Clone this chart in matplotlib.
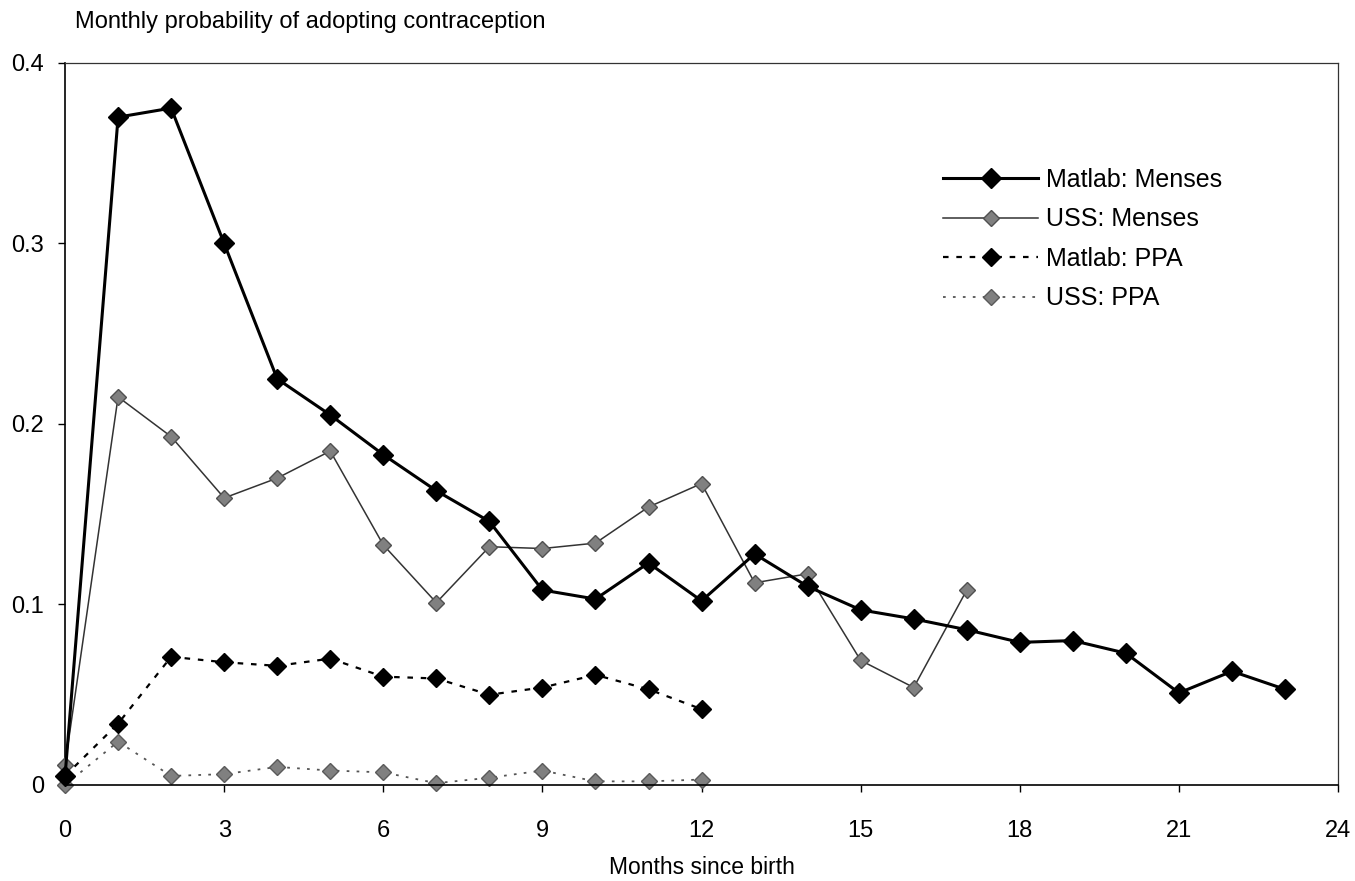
import numpy as np
import matplotlib.pyplot as plt

plt.rcParams['font.family'] = ['Liberation Sans', 'DejaVu Sans']

months = np.arange(0, 24)

matlab_menses = [0.005, 0.370, 0.375, 0.300, 0.225, 0.205, 0.183, 0.163, 0.146, 0.108,
                 0.103, 0.123, 0.102, 0.128, 0.110, 0.097, 0.092, 0.086, 0.079, 0.080,
                 0.073, 0.051, 0.063, 0.053]
uss_menses = [0.011, 0.215, 0.193, 0.159, 0.170, 0.185, 0.133, 0.101, 0.132, 0.131,
              0.134, 0.154, 0.167, 0.112, 0.117, 0.069, 0.054, 0.108]
matlab_ppa = [0.005, 0.034, 0.071, 0.068, 0.066, 0.070, 0.060, 0.059, 0.050, 0.054,
              0.061, 0.053, 0.042]
uss_ppa = [0.000, 0.024, 0.005, 0.006, 0.010, 0.008, 0.007, 0.001, 0.004, 0.008,
           0.002, 0.002, 0.003]

x_ticks = np.arange(0, 25, 3)
y_ticks = [0, 0.1, 0.2, 0.3, 0.4]

fig = plt.figure(figsize=(13.55, 8.81), dpi=100)
ax = fig.add_axes([0.048, 0.109, 0.9395, 0.8195])

grey = '#808080'
ax.plot(months[:len(uss_ppa)], uss_ppa, color='#555555', lw=1.3, ls=(0, (1.5, 4)),
        marker='D', ms=8, mfc=grey, mec='#5a5a5a', label='USS: PPA', zorder=2)
ax.plot(months[:len(matlab_ppa)], matlab_ppa, color='black', lw=1.6, ls=(0, (2.5, 3.5)),
        marker='D', ms=9, mfc='black', mec='black', label='Matlab: PPA', zorder=3)
ax.plot(months[:len(uss_menses)], uss_menses, color='#333333', lw=1.1, ls='-',
        marker='D', ms=8, mfc=grey, mec='#505050', label='USS: Menses', zorder=4)
ax.plot(months[:len(matlab_menses)], matlab_menses, color='black', lw=2.2, ls='-',
        marker='D', ms=10, mfc='black', mec='black', label='Matlab: Menses', zorder=5)

ax.set_xlim(0, 24)
ax.set_ylim(0, 0.4)
ax.set_xticks(x_ticks)
ax.set_xticklabels([str(v) for v in x_ticks])
ax.set_yticks(y_ticks)
ax.set_yticklabels(['0', '0.1', '0.2', '0.3', '0.4'])
ax.tick_params(axis='both', labelsize=17, direction='out', length=5, width=1, color='black')
ax.tick_params(axis='x', pad=20)
ax.tick_params(axis='y', pad=10)
for side in ['top', 'right']:
    ax.spines[side].set_linewidth(0.9)
    ax.spines[side].set_color('#333333')
for side in ['left', 'bottom']:
    ax.spines[side].set_linewidth(1.2)
for line in ax.lines:
    line.set_clip_on(False)

ax.set_xlabel('Months since birth', fontsize=16.5, labelpad=10)
fig.text(0.055, 0.975, 'Monthly probability of adopting contraception', fontsize=17,
         ha='left', va='center')

handles, labels = ax.get_legend_handles_labels()
order = [3, 2, 1, 0]
ax.legend([handles[i] for i in order], [labels[i] for i in order], loc='upper left',
          bbox_to_anchor=(0.672, 0.886), frameon=False, fontsize=18, handlelength=3.8,
          handletextpad=0.3, labelspacing=0.62)

fig.savefig('out.png', dpi=100)
